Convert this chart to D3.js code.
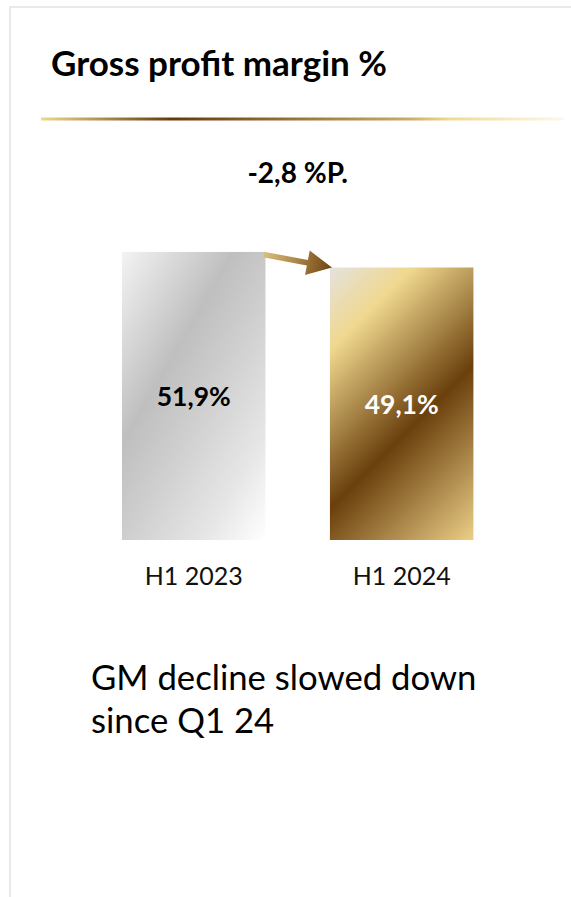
<!DOCTYPE html>
<html>
<head>
<meta charset="utf-8">
<script src="https://cdn.jsdelivr.net/npm/d3@7"></script>
<style>
  html, body { margin: 0; padding: 0; background: #ffffff; }
  svg { display: block; }
  text { font-family: Lato, "Noto Sans", sans-serif; }
</style>
</head>
<body>
<svg id="chart" width="571" height="897"></svg>
<script>
// Gross profit margin, first half of each year (%)
const periods = ["H1 2023", "H1 2024"];
const margins = [51.9, 49.1];
const valueLabels = ["51,9%", "49,1%"];
const changeLabel = "-2,8 %P.";
const title = "Gross profit margin %";
const noteLines = ["GM decline slowed down", "since Q1 24"];

const svg = d3.select("#chart");
const defs = svg.append("defs");

// Card frame
svg.append("rect")
  .attr("x", 10).attr("y", 7)
  .attr("width", 600).attr("height", 920)
  .attr("fill", "#ffffff")
  .attr("stroke", "#e4e4e4")
  .attr("stroke-width", 1.6);

// Title
svg.append("text")
  .attr("x", 51).attr("y", 76)
  .attr("font-size", 35).attr("font-weight", 700)
  .attr("fill", "#000")
  .text(title);

// Gold rule under the title
const rule = defs.append("linearGradient")
  .attr("id", "ruleGrad")
  .attr("gradientUnits", "userSpaceOnUse")
  .attr("x1", 41).attr("y1", 0).attr("x2", 564).attr("y2", 0);
[[0, "#efd78d"], [0.25, "#663a08"], [0.7, "#c9a965"], [0.78, "#f2d990"], [1, "#fbf8ec"]]
  .forEach(([o, c]) => rule.append("stop").attr("offset", o).attr("stop-color", c));
svg.append("rect")
  .attr("x", 41).attr("y", 117.5)
  .attr("width", 523).attr("height", 3)
  .attr("fill", "url(#ruleGrad)");

// Scales
const x = d3.scaleBand()
  .domain(periods)
  .range([80.4, 515])
  .paddingInner(0.31)
  .paddingOuter(0.2);

const y = d3.scaleLinear()
  .domain([0, 60])
  .range([540, 207]);

// Bar fills: diagonal silver sheen and gold sheen, laid out along each bar's box
function sheen(id, x0, y0, x1, y1, angleDeg, stops) {
  const a = angleDeg * Math.PI / 180;
  const ux = Math.cos(a), uy = Math.sin(a);
  const p = (px, py) => px * ux + py * uy;
  const s0 = Math.min(p(x0, y0), p(x1, y0), p(x0, y1), p(x1, y1));
  const s1 = Math.max(p(x0, y0), p(x1, y0), p(x0, y1), p(x1, y1));
  // start from the corner with the smallest projection
  const cx = ux >= 0 ? x0 : x1, cy = uy >= 0 ? y0 : y1;
  const len = s1 - s0;
  const g = defs.append("linearGradient")
    .attr("id", id)
    .attr("gradientUnits", "userSpaceOnUse")
    .attr("x1", cx).attr("y1", cy)
    .attr("x2", cx + ux * len).attr("y2", cy + uy * len);
  stops.forEach(([o, c]) => g.append("stop").attr("offset", o).attr("stop-color", c));
  return `url(#${id})`;
}

const barStyles = [
  { angle: 30, text: "#000000",
    stops: [[0, "#f3f3f3"], [0.36, "#bfbfbf"], [0.55, "#cfcfcf"], [0.8, "#e6e6e6"], [1, "#ffffff"]] },
  { angle: 45, text: "#ffffff",
    stops: [[0, "#e4e2de"], [0.2, "#f0d88e"], [0.58, "#6a3f0c"], [1, "#ebcf88"]] }
];

const bars = svg.append("g");
periods.forEach((p, i) => {
  const bx = x(p), bw = x.bandwidth();
  const by = y(margins[i]), bh = y(0) - y(margins[i]);
  const fill = sheen("barGrad" + i, bx, by, bx + bw, by + bh, barStyles[i].angle, barStyles[i].stops);
  bars.append("rect")
    .attr("x", bx).attr("y", by)
    .attr("width", bw).attr("height", bh)
    .attr("fill", fill);
  bars.append("text")
    .attr("x", bx + bw / 2)
    .attr("y", by + bh / 2 + 10)
    .attr("text-anchor", "middle")
    .attr("font-size", 26.5).attr("font-weight", 700)
    .attr("fill", barStyles[i].text)
    .text(valueLabels[i]);
});

// Category axis (labels only)
const xAxis = svg.append("g")
  .attr("transform", `translate(0,${y(0)})`)
  .call(d3.axisBottom(x).tickSize(0).tickPadding(24));
xAxis.select(".domain").remove();
xAxis.selectAll("text")
  .attr("font-family", "Lato, 'Noto Sans', sans-serif")
  .attr("font-size", 25)
  .attr("fill", "#111")
  .attr("dy", 0)
  .attr("y", 45);

// Change arrow between the two bar tops
const ax0 = x(periods[0]) + x.bandwidth() - 2;
const ay0 = y(margins[0]) + 2.5;
const ax1 = x(periods[1]) + 2;
const ay1 = y(margins[1]);
const ang = Math.atan2(ay1 - ay0, ax1 - ax0);
const L = Math.hypot(ax1 - ax0, ay1 - ay0);
const headLen = 25, headHalf = 12.5, shaftHalf = 2.8;
const arrowGrad = defs.append("linearGradient")
  .attr("id", "arrowGrad")
  .attr("gradientUnits", "userSpaceOnUse")
  .attr("x1", 0).attr("y1", 0).attr("x2", L).attr("y2", 0);
[[0, "#d9bf80"], [0.45, "#b08a4a"], [1, "#6c4310"]]
  .forEach(([o, c]) => arrowGrad.append("stop").attr("offset", o).attr("stop-color", c));
const arrowShape = [
  [0, -shaftHalf], [L - headLen, -shaftHalf], [L - headLen, -headHalf],
  [L, 0], [L - headLen, headHalf], [L - headLen, shaftHalf], [0, shaftHalf]
];
svg.append("path")
  .attr("transform", `translate(${ax0},${ay0}) rotate(${ang * 180 / Math.PI})`)
  .attr("d", d3.line()(arrowShape) + "Z")
  .attr("fill", "url(#arrowGrad)");

// Change label above the arrow
svg.append("text")
  .attr("x", (x(periods[0]) + x(periods[1]) + x.bandwidth()) / 2)
  .attr("y", 183)
  .attr("text-anchor", "middle")
  .attr("font-size", 28).attr("font-weight", 700)
  .attr("fill", "#000")
  .text(changeLabel);

// Commentary
svg.append("text")
  .attr("x", 91).attr("y", 690)
  .attr("font-size", 34.7)
  .attr("fill", "#000")
  .selectAll("tspan")
  .data(noteLines)
  .join("tspan")
  .attr("x", 91)
  .attr("dy", (d, i) => i === 0 ? 0 : 43)
  .text(d => d);
</script>
</body>
</html>
